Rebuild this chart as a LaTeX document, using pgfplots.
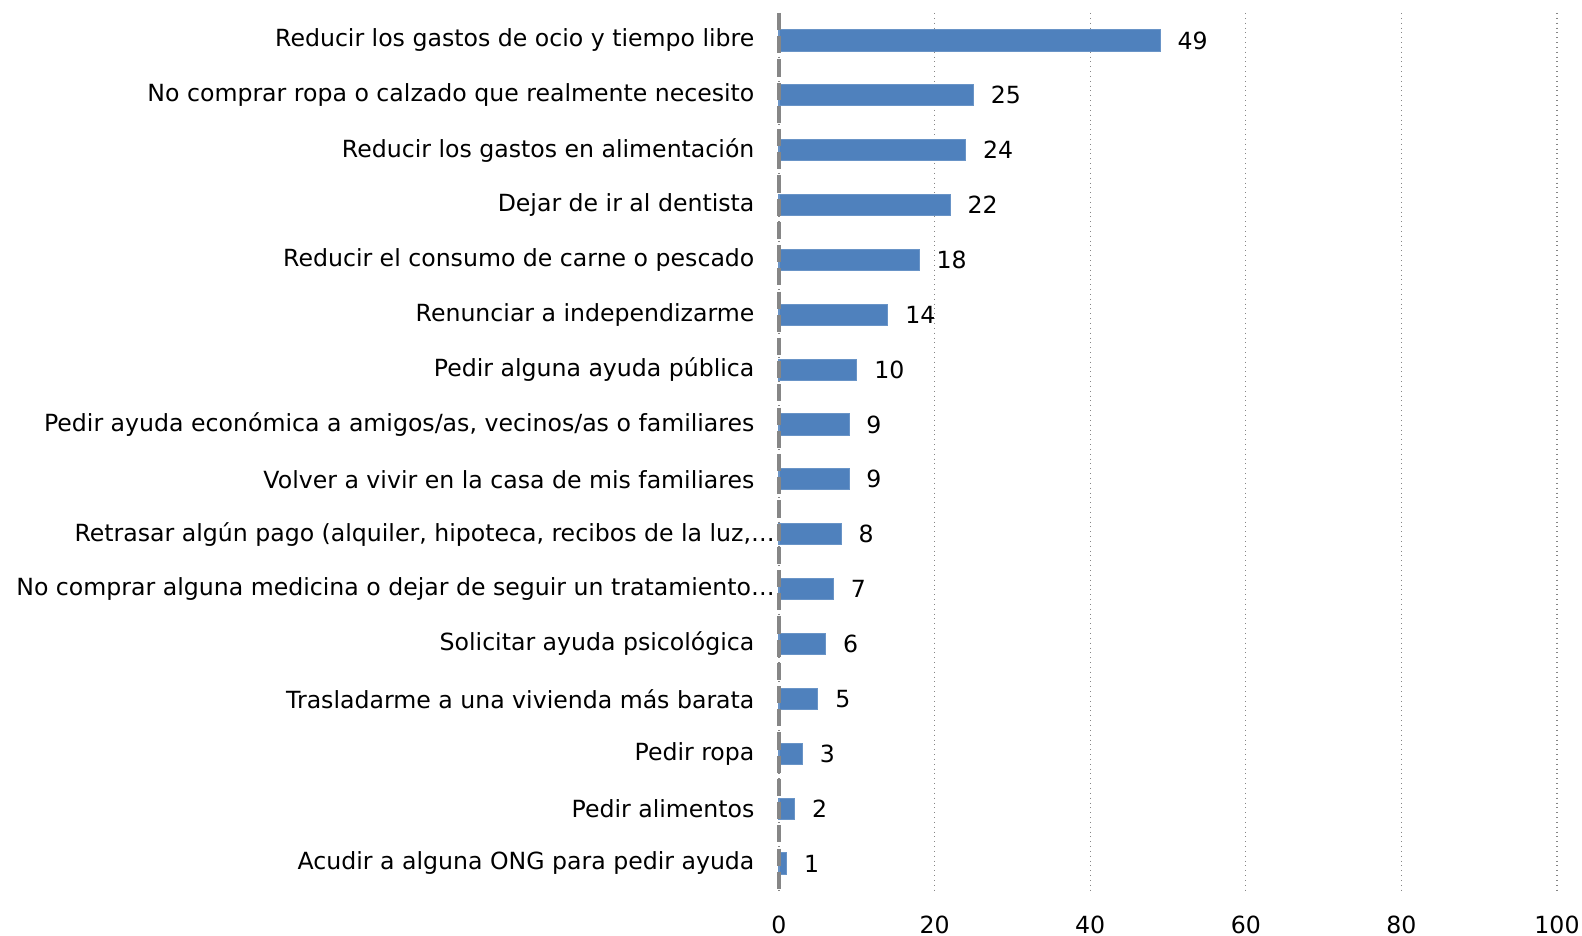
\documentclass[border=0pt]{standalone}
\usepackage{fontspec}
\setmainfont{DejaVu Sans}
\usepackage{pgfplots}
\pgfplotsset{compat=1.18}
\definecolor{barblue}{RGB}{79,129,189}
\definecolor{axgray}{RGB}{134,134,134}
\begin{document}
\fontsize{11.7pt}{13pt}\selectfont
\begin{tikzpicture}
\begin{axis}[
  scale only axis, width=385.5pt, height=435pt,
  xmin=0, xmax=100, ymin=-0.5, ymax=15.5, y dir=reverse,
  xbar, bar width=10.5pt,
  axis line style={draw=none},
  xtick={0,20,...,100}, xmajorgrids,
  grid style={axgray, dotted, line width=0.6pt},
  ytick={0,...,15},
  yticklabels={
    Reducir los gastos de ocio y tiempo libre,
    No comprar ropa o calzado que realmente necesito,
    Reducir los gastos en alimentación,
    Dejar de ir al dentista,
    Reducir el consumo de carne o pescado,
    Renunciar a independizarme,
    Pedir alguna ayuda pública,
    {Pedir ayuda económica a amigos/as, vecinos/as o familiares},
    Volver a vivir en la casa de mis familiares,
    {Retrasar algún pago (alquiler, hipoteca, recibos de la luz,…\hspace*{-10pt}},
    {No comprar alguna medicina o dejar de seguir un tratamiento…\hspace*{-10pt}},
    Solicitar ayuda psicológica,
    Trasladarme a una vivienda más barata,
    Pedir ropa,
    Pedir alimentos,
    Acudir a alguna ONG para pedir ayuda},
  major tick length=0pt,
  yticklabel style={inner sep=0pt, anchor=east},
  yticklabel shift=12pt,
  xticklabel style={inner sep=0pt, anchor=north},
  xticklabel shift=12pt,
  nodes near coords,
  nodes near coords style={inner sep=0pt, anchor=west, xshift=8.4pt, black},
  clip=false,
  /pgf/number format/assume math mode=true,
]
\path (rel axis cs:-1.0013,-0.0513) rectangle (rel axis cs:1.0321,1.0148);
\addplot[fill=barblue, draw=barblue!85!white, line width=0.5pt] coordinates {
  (49,0) (25,1) (24,2) (22,3) (18,4) (14,5) (10,6) (9,7)
  (9,8) (8,9) (7,10) (6,11) (5,12) (3,13) (2,14) (1,15)};
\draw[axgray, line width=1.6pt, dash pattern=on 8.5pt off 3pt] (axis cs:0,-0.5) -- (axis cs:0,15.5);
\end{axis}
\end{tikzpicture}
\end{document}
